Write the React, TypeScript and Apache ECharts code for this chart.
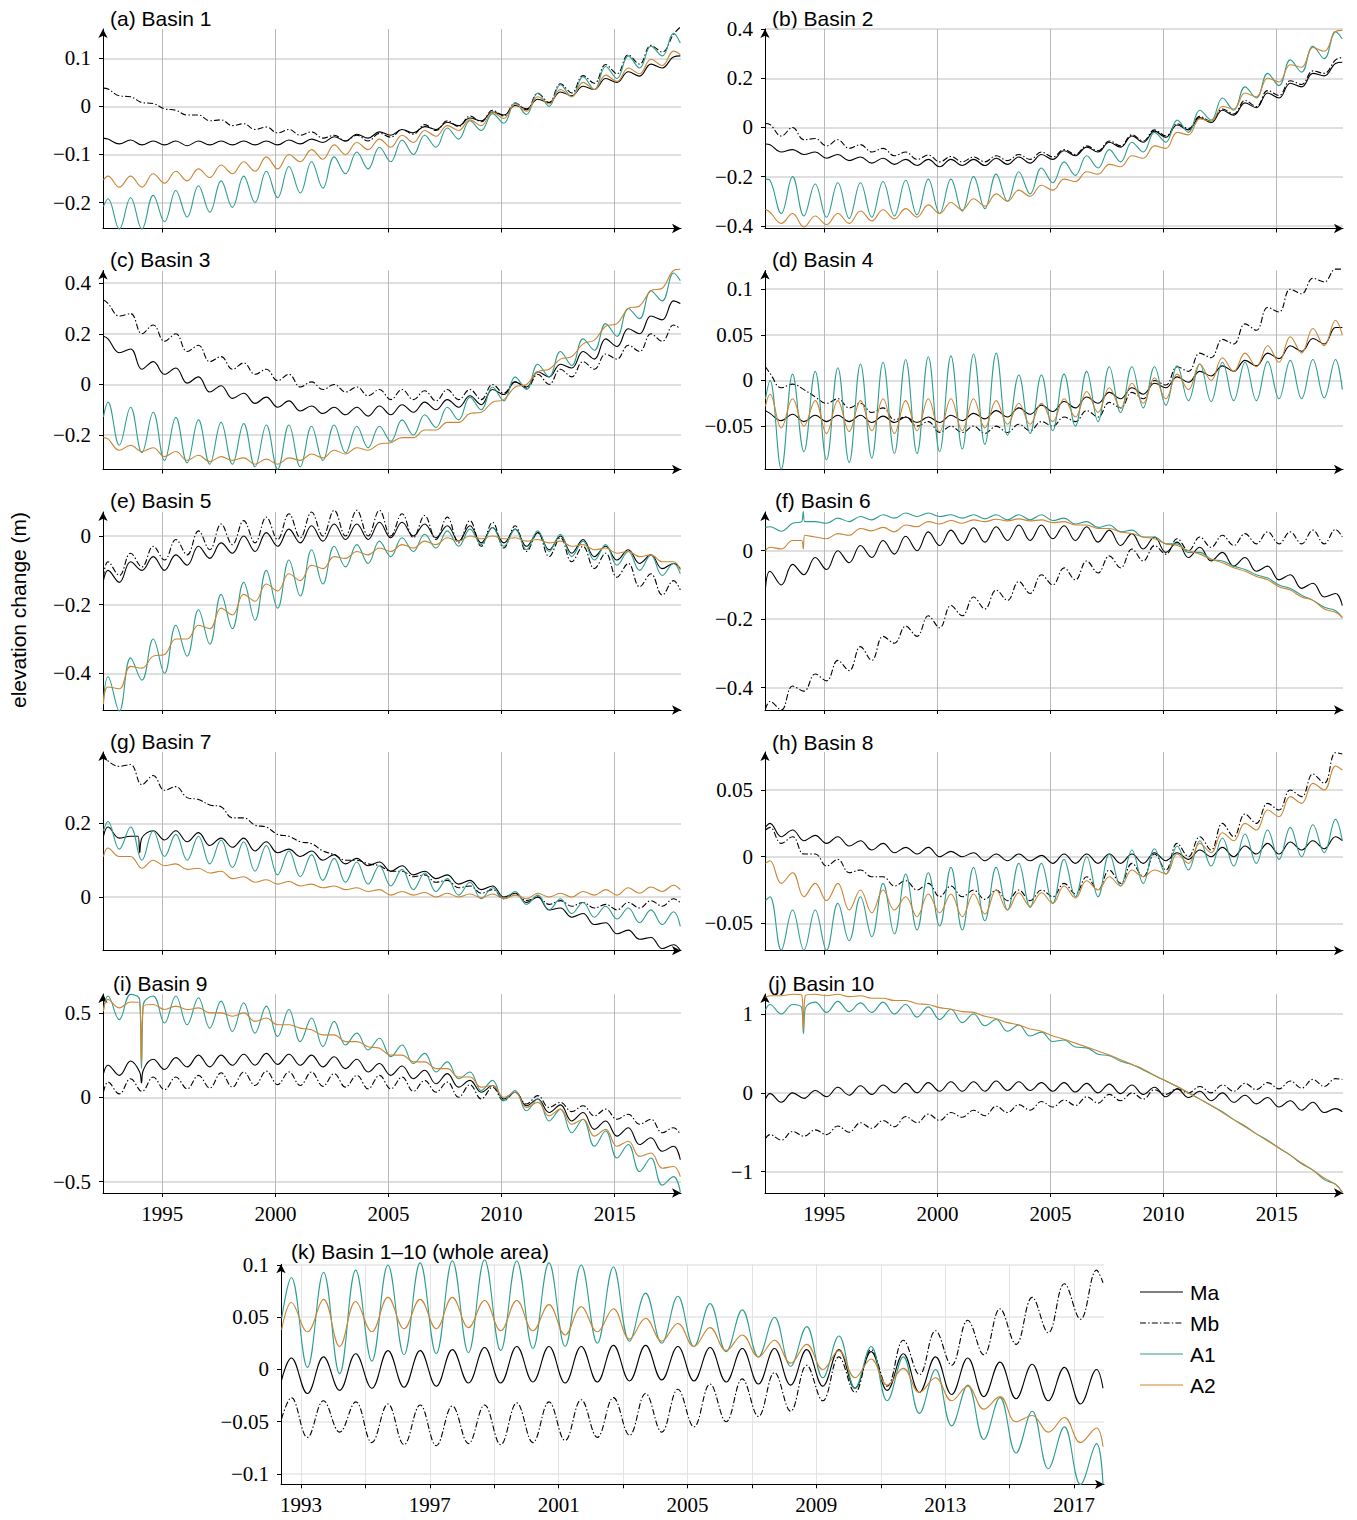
import React, { useEffect, useRef } from "react";
import * as echarts from "echarts";

// ---------- axes ----------
const X_MIN = 1992.38;
const X_MAX = 2017.93;
const START_T = 1992.4;
const END_T = 2017.9;

const TITLES = [
  "(a) Basin 1", "(b) Basin 2", "(c) Basin 3", "(d) Basin 4", "(e) Basin 5",
  "(f) Basin 6", "(g) Basin 7", "(h) Basin 8", "(i) Basin 9", "(j) Basin 10",
  "(k) Basin 1\u201310 (whole area)",
];
const SERIES_NAMES = ["Ma", "Mb", "A1", "A2"];

const Y_RANGES = [
  [-0.254, 0.161], [-0.411, 0.4005], [-0.336, 0.45], [-0.0975, 0.1205],
  [-0.507, 0.07], [-0.465, 0.113], [-0.146, 0.394], [-0.0705, 0.0785],
  [-0.567, 0.612], [-1.27, 1.253], [-0.1099, 0.1006],
];
const Y_TICKS = [
  [-0.2, -0.1, 0, 0.1], [-0.4, -0.2, 0, 0.2, 0.4], [-0.2, 0, 0.2, 0.4],
  [-0.05, 0, 0.05, 0.1], [-0.4, -0.2, 0], [-0.4, -0.2, 0], [0, 0.2],
  [-0.05, 0, 0.05], [-0.5, 0, 0.5], [-1, 0, 1], [-0.1, -0.05, 0, 0.05, 0.1],
];
const X_TICKS = [1995, 2000, 2005, 2010, 2015];
const K_X_TICKS = [1993, 1995, 1997, 1999, 2001, 2003, 2005, 2007, 2009, 2011, 2013, 2015, 2017];
const K_X_LABELS = [1993, 1997, 2001, 2005, 2009, 2013, 2017];
// time of first seasonal peak sample in each panel (samples every half year)
const PHASES = [1992.6, 1992.6, 1992.6, 1992.6, 1992.6, 1992.6, 1992.6, 1992.6, 1992.6, 1992.6, 1992.7];

// ---------- data (m); [start, peak, trough, peak, trough ..., last peak, end] ----------
const a_Ma = [-0.066,
  -0.068, -0.078, -0.07, -0.08, -0.072, -0.08, -0.072, -0.082, -0.072, -0.08,
  -0.072, -0.08, -0.072, -0.08, -0.072, -0.08, -0.07, -0.078, -0.068, -0.075,
  -0.063, -0.072, -0.058, -0.066, -0.053, -0.06, -0.048, -0.055, -0.042, -0.048,
  -0.033, -0.04, -0.024, -0.03, -0.012, -0.018, 0.002, -0.005, 0.015, 0.008,
  0.03, 0.022, 0.042, 0.035, 0.058, 0.05, 0.072, 0.063, 0.088, 0.08,
  0.103, 0.105];
const a_Mb = [0.038,
  0.036, 0.022, 0.02, 0.008, 0.006, -0.005, -0.008, -0.018, -0.018, -0.03,
  -0.028, -0.04, -0.036, -0.048, -0.043, -0.055, -0.048, -0.06, -0.053, -0.066,
  -0.06, -0.072, -0.06, -0.072, -0.056, -0.064, -0.048, -0.058, -0.038, -0.05,
  -0.03, -0.042, -0.02, -0.032, -0.008, -0.02, 0.007, -0.007, 0.027, 0.008,
  0.047, 0.028, 0.064, 0.048, 0.087, 0.068, 0.107, 0.088, 0.127, 0.113,
  0.15, 0.165];
const a_A1 = [-0.208,
  -0.192, -0.255, -0.19, -0.255, -0.185, -0.24, -0.175, -0.23, -0.165, -0.22,
  -0.155, -0.21, -0.145, -0.2, -0.135, -0.19, -0.125, -0.18, -0.115, -0.17,
  -0.105, -0.14, -0.095, -0.13, -0.085, -0.115, -0.07, -0.1, -0.06, -0.085,
  -0.045, -0.068, -0.03, -0.05, -0.015, -0.035, 0.008, -0.017, 0.028, 0.0,
  0.045, 0.02, 0.062, 0.035, 0.083, 0.058, 0.105, 0.08, 0.125, 0.105,
  0.152, 0.132];
const a_A2 = [-0.153,
  -0.145, -0.168, -0.145, -0.168, -0.14, -0.16, -0.135, -0.155, -0.13, -0.148,
  -0.122, -0.14, -0.115, -0.135, -0.105, -0.13, -0.1, -0.115, -0.09, -0.11,
  -0.08, -0.1, -0.075, -0.09, -0.068, -0.085, -0.06, -0.075, -0.05, -0.062,
  -0.04, -0.05, -0.028, -0.04, -0.012, -0.025, 0.005, -0.01, 0.02, 0.005,
  0.035, 0.02, 0.05, 0.035, 0.065, 0.052, 0.08, 0.068, 0.098, 0.085,
  0.115, 0.108];

const b_Ma = [-0.067,
  -0.07, -0.1, -0.09, -0.11, -0.1, -0.125, -0.11, -0.135, -0.12, -0.145,
  -0.125, -0.15, -0.13, -0.155, -0.13, -0.16, -0.13, -0.155, -0.13, -0.155,
  -0.125, -0.15, -0.12, -0.145, -0.11, -0.13, -0.095, -0.115, -0.08, -0.1,
  -0.06, -0.08, -0.035, -0.06, -0.015, -0.04, 0.01, -0.01, 0.04, 0.02,
  0.07, 0.05, 0.1, 0.08, 0.14, 0.12, 0.18, 0.165, 0.22, 0.21,
  0.26, 0.265];
const b_Mb = [0.016,
  0.012, -0.035, 0.0, -0.05, -0.045, -0.075, -0.05, -0.085, -0.07, -0.1,
  -0.085, -0.115, -0.1, -0.13, -0.112, -0.14, -0.118, -0.14, -0.12, -0.14,
  -0.115, -0.135, -0.11, -0.13, -0.1, -0.12, -0.09, -0.11, -0.075, -0.095,
  -0.055, -0.075, -0.03, -0.055, -0.01, -0.035, 0.015, -0.005, 0.045, 0.025,
  0.075, 0.055, 0.11, 0.085, 0.15, 0.13, 0.19, 0.175, 0.23, 0.22,
  0.275, 0.285];
const b_A1 = [-0.21,
  -0.215, -0.35, -0.2, -0.36, -0.23, -0.365, -0.225, -0.37, -0.225, -0.365,
  -0.22, -0.36, -0.215, -0.355, -0.21, -0.35, -0.21, -0.34, -0.2, -0.33,
  -0.19, -0.3, -0.18, -0.27, -0.165, -0.225, -0.14, -0.195, -0.115, -0.165,
  -0.09, -0.14, -0.06, -0.1, -0.02, -0.06, 0.03, -0.02, 0.07, 0.03,
  0.12, 0.07, 0.165, 0.12, 0.22, 0.17, 0.275, 0.225, 0.33, 0.28,
  0.39, 0.36];
const b_A2 = [-0.333,
  -0.345, -0.39, -0.35, -0.405, -0.36, -0.395, -0.35, -0.39, -0.34, -0.38,
  -0.335, -0.372, -0.33, -0.365, -0.315, -0.35, -0.305, -0.335, -0.29, -0.32,
  -0.27, -0.3, -0.255, -0.28, -0.235, -0.255, -0.21, -0.22, -0.18, -0.19,
  -0.15, -0.16, -0.115, -0.125, -0.075, -0.085, -0.02, -0.03, 0.035, 0.025,
  0.085, 0.075, 0.14, 0.125, 0.2, 0.185, 0.255, 0.245, 0.325, 0.31,
  0.39, 0.395];

const c_Ma = [0.19,
  0.18, 0.125, 0.14, 0.06, 0.09, 0.04, 0.065, 0.005, 0.03, -0.03,
  -0.005, -0.055, -0.035, -0.075, -0.05, -0.09, -0.065, -0.105, -0.085, -0.115,
  -0.09, -0.12, -0.09, -0.125, -0.085, -0.12, -0.08, -0.11, -0.07, -0.1,
  -0.06, -0.09, -0.045, -0.08, -0.02, -0.04, 0.01, -0.01, 0.05, 0.03,
  0.08, 0.065, 0.13, 0.1, 0.18, 0.15, 0.22, 0.2, 0.27, 0.255,
  0.33, 0.32];
const c_Mb = [0.334,
  0.32, 0.27, 0.28, 0.2, 0.235, 0.17, 0.2, 0.13, 0.155, 0.09,
  0.11, 0.06, 0.085, 0.04, 0.06, 0.015, 0.04, -0.01, 0.01, -0.02,
  0.0, -0.03, -0.01, -0.045, -0.02, -0.06, -0.02, -0.06, -0.025, -0.065,
  -0.02, -0.06, -0.02, -0.06, 0.0, -0.035, 0.01, -0.015, 0.04, 0.0,
  0.06, 0.03, 0.09, 0.06, 0.12, 0.1, 0.155, 0.13, 0.2, 0.17,
  0.235, 0.22];
const c_A1 = [-0.128,
  -0.07, -0.24, -0.09, -0.27, -0.11, -0.3, -0.13, -0.31, -0.14, -0.315,
  -0.15, -0.315, -0.155, -0.325, -0.16, -0.335, -0.16, -0.325, -0.165, -0.3,
  -0.16, -0.27, -0.165, -0.25, -0.165, -0.225, -0.14, -0.2, -0.12, -0.17,
  -0.09, -0.14, -0.05, -0.1, -0.01, -0.065, 0.03, -0.02, 0.08, 0.03,
  0.13, 0.075, 0.18, 0.135, 0.24, 0.19, 0.3, 0.26, 0.37, 0.33,
  0.44, 0.41];
const c_A2 = [-0.21,
  -0.215, -0.26, -0.24, -0.265, -0.25, -0.285, -0.265, -0.3, -0.28, -0.305,
  -0.285, -0.3, -0.29, -0.315, -0.295, -0.315, -0.29, -0.3, -0.275, -0.29,
  -0.26, -0.275, -0.25, -0.26, -0.235, -0.23, -0.21, -0.21, -0.18, -0.18,
  -0.15, -0.15, -0.115, -0.11, -0.07, -0.06, -0.01, 0.0, 0.05, 0.06,
  0.1, 0.11, 0.16, 0.175, 0.23, 0.24, 0.3, 0.31, 0.37, 0.38,
  0.45, 0.455];

const d_Ma = [-0.033,
  -0.036, -0.044, -0.037, -0.045, -0.038, -0.045, -0.038, -0.045, -0.038, -0.046,
  -0.039, -0.046, -0.04, -0.046, -0.04, -0.046, -0.038, -0.044, -0.036, -0.042,
  -0.033, -0.04, -0.03, -0.037, -0.027, -0.034, -0.023, -0.03, -0.018, -0.025,
  -0.013, -0.02, -0.008, -0.015, -0.003, -0.008, 0.004, -0.002, 0.01, 0.005,
  0.016, 0.01, 0.022, 0.016, 0.03, 0.024, 0.038, 0.032, 0.046, 0.04,
  0.058, 0.058];
const d_Mb = [0.015,
  0.008, -0.008, -0.004, -0.01, -0.018, -0.025, -0.02, -0.03, -0.025, -0.035,
  -0.03, -0.043, -0.04, -0.05, -0.045, -0.057, -0.05, -0.057, -0.05, -0.058,
  -0.05, -0.057, -0.048, -0.055, -0.045, -0.05, -0.04, -0.045, -0.033, -0.04,
  -0.024, -0.03, -0.013, -0.02, 0.0, -0.005, 0.015, 0.01, 0.03, 0.025,
  0.045, 0.04, 0.062, 0.055, 0.08, 0.075, 0.1, 0.095, 0.112, 0.108,
  0.122, 0.122];
const d_A1 = [-0.02,
  0.0, -0.097, 0.007, -0.078, 0.01, -0.087, 0.014, -0.09, 0.018, -0.085,
  0.02, -0.08, 0.023, -0.08, 0.026, -0.078, 0.027, -0.075, 0.029, -0.07,
  0.03, -0.06, 0.006, -0.058, 0.006, -0.055, 0.007, -0.05, 0.01, -0.045,
  0.015, -0.035, 0.015, -0.03, 0.015, -0.027, 0.016, -0.022, 0.018, -0.023,
  0.02, -0.022, 0.02, -0.022, 0.021, -0.02, 0.022, -0.02, 0.023, -0.019,
  0.023, -0.01];
const d_A2 = [-0.028,
  -0.015, -0.052, -0.02, -0.05, -0.022, -0.058, -0.022, -0.056, -0.022, -0.055,
  -0.02, -0.058, -0.022, -0.055, -0.02, -0.056, -0.02, -0.055, -0.02, -0.052,
  -0.022, -0.048, -0.025, -0.048, -0.025, -0.045, -0.02, -0.04, -0.012, -0.035,
  -0.008, -0.03, -0.003, -0.025, 0.003, -0.02, 0.007, -0.01, 0.018, 0.0,
  0.025, 0.01, 0.03, 0.015, 0.038, 0.02, 0.048, 0.03, 0.057, 0.038,
  0.066, 0.05];

const e_Ma = [-0.13,
  -0.1, -0.135, -0.075, -0.1, -0.06, -0.1, -0.055, -0.085, -0.03, -0.065,
  -0.02, -0.05, 0.0, -0.045, 0.01, -0.03, 0.02, -0.02, 0.03, -0.015,
  0.035, -0.01, 0.035, -0.01, 0.04, -0.005, 0.04, 0.0, 0.035, -0.005,
  0.03, -0.015, 0.03, -0.02, 0.025, -0.02, 0.02, -0.03, 0.01, -0.04,
  0.0, -0.05, -0.01, -0.06, -0.03, -0.07, -0.04, -0.08, -0.055, -0.095,
  -0.08, -0.095];
const e_Mb = [-0.12,
  -0.075, -0.115, -0.05, -0.09, -0.03, -0.07, -0.01, -0.055, 0.015, -0.04,
  0.035, -0.025, 0.045, -0.02, 0.055, -0.01, 0.065, -0.005, 0.07, 0.0,
  0.075, 0.0, 0.075, 0.0, 0.075, 0.0, 0.065, -0.005, 0.06, -0.01,
  0.055, -0.02, 0.045, -0.03, 0.04, -0.035, 0.03, -0.045, 0.01, -0.06,
  -0.005, -0.075, -0.03, -0.095, -0.05, -0.12, -0.08, -0.148, -0.11, -0.172,
  -0.13, -0.157];
const e_A1 = [-0.48,
  -0.41, -0.51, -0.355, -0.42, -0.3, -0.4, -0.26, -0.35, -0.215, -0.315,
  -0.17, -0.27, -0.135, -0.245, -0.1, -0.21, -0.07, -0.175, -0.04, -0.14,
  -0.03, -0.09, -0.025, -0.08, -0.015, -0.06, -0.005, -0.045, 0.005, -0.035,
  0.015, -0.03, 0.02, -0.025, 0.025, -0.03, 0.02, -0.04, 0.015, -0.045,
  0.005, -0.06, -0.015, -0.07, -0.025, -0.085, -0.045, -0.1, -0.055, -0.115,
  -0.08, -0.11];
const e_A2 = [-0.49,
  -0.44, -0.445, -0.38, -0.385, -0.35, -0.345, -0.3, -0.3, -0.26, -0.27,
  -0.21, -0.23, -0.17, -0.19, -0.14, -0.16, -0.11, -0.13, -0.085, -0.095,
  -0.06, -0.065, -0.045, -0.055, -0.035, -0.045, -0.025, -0.035, -0.015, -0.025,
  -0.005, -0.015, 0.0, -0.008, 0.0, -0.008, -0.005, -0.015, -0.01, -0.02,
  -0.015, -0.03, -0.025, -0.04, -0.035, -0.05, -0.045, -0.06, -0.055, -0.075,
  -0.075, -0.1];

const f_Ma = [-0.11,
  -0.06, -0.1, -0.04, -0.07, -0.02, -0.055, 0.0, -0.035, 0.015, -0.02,
  0.03, -0.01, 0.042, 0.0, 0.055, 0.015, 0.06, 0.02, 0.067, 0.025,
  0.07, 0.03, 0.075, 0.03, 0.075, 0.035, 0.073, 0.03, 0.07, 0.025,
  0.06, 0.015, 0.05, 0.005, 0.04, -0.005, 0.025, -0.02, 0.01, -0.03,
  -0.005, -0.045, -0.02, -0.06, -0.045, -0.085, -0.07, -0.11, -0.095, -0.135,
  -0.125, -0.16];
const f_Mb = [-0.463,
  -0.44, -0.465, -0.395, -0.41, -0.36, -0.38, -0.32, -0.35, -0.28, -0.32,
  -0.25, -0.27, -0.22, -0.25, -0.19, -0.225, -0.16, -0.19, -0.135, -0.17,
  -0.115, -0.145, -0.09, -0.125, -0.07, -0.1, -0.05, -0.085, -0.03, -0.065,
  -0.015, -0.05, 0.005, -0.03, 0.015, -0.01, 0.035, 0.0, 0.04, 0.01,
  0.045, 0.015, 0.05, 0.02, 0.055, 0.02, 0.055, 0.02, 0.06, 0.02,
  0.062, 0.04];
const f_A1 = [0.068,
  0.07, 0.057, 0.08, 0.085, 0.085, 0.08, 0.095, 0.085, 0.1, 0.09,
  0.105, 0.095, 0.11, 0.1, 0.11, 0.1, 0.105, 0.095, 0.105, 0.093,
  0.105, 0.09, 0.105, 0.09, 0.105, 0.088, 0.095, 0.078, 0.085, 0.068,
  0.075, 0.055, 0.06, 0.04, 0.04, 0.02, 0.02, -0.005, -0.005, -0.025,
  -0.03, -0.045, -0.055, -0.07, -0.08, -0.1, -0.11, -0.13, -0.145, -0.165,
  -0.175, -0.195];
const f_A2 = [0.0,
  0.01, 0.005, 0.03, 0.03, 0.04, 0.035, 0.05, 0.045, 0.065, 0.058,
  0.068, 0.055, 0.075, 0.07, 0.085, 0.078, 0.088, 0.08, 0.09, 0.085,
  0.092, 0.087, 0.093, 0.087, 0.09, 0.082, 0.085, 0.075, 0.075, 0.065,
  0.065, 0.055, 0.05, 0.04, 0.035, 0.02, 0.015, 0.0, -0.01, -0.025,
  -0.035, -0.05, -0.06, -0.075, -0.085, -0.105, -0.115, -0.135, -0.145, -0.17,
  -0.18, -0.195];

const g_Ma = [0.165,
  0.19, 0.16, 0.165, 0.16, 0.18, 0.155, 0.18, 0.15, 0.175, 0.14,
  0.16, 0.135, 0.16, 0.125, 0.15, 0.12, 0.13, 0.11, 0.125, 0.1,
  0.115, 0.09, 0.105, 0.085, 0.095, 0.07, 0.085, 0.06, 0.07, 0.05,
  0.06, 0.035, 0.045, 0.02, 0.03, 0.0, 0.01, -0.015, 0.0, -0.035,
  -0.03, -0.055, -0.045, -0.075, -0.07, -0.1, -0.09, -0.115, -0.11, -0.14,
  -0.13, -0.145];
const g_Mb = [0.39,
  0.37, 0.355, 0.36, 0.305, 0.33, 0.29, 0.3, 0.27, 0.265, 0.25,
  0.245, 0.215, 0.215, 0.195, 0.19, 0.17, 0.165, 0.15, 0.145, 0.125,
  0.115, 0.1, 0.1, 0.09, 0.085, 0.07, 0.07, 0.055, 0.06, 0.04,
  0.045, 0.025, 0.03, 0.01, 0.02, -0.005, 0.01, -0.01, 0.0, -0.02,
  -0.01, -0.025, -0.015, -0.03, -0.02, -0.035, -0.015, -0.03, -0.01, -0.025,
  -0.005, -0.015];
const g_A1 = [0.18,
  0.205, 0.13, 0.19, 0.1, 0.18, 0.11, 0.17, 0.1, 0.165, 0.09,
  0.155, 0.08, 0.15, 0.07, 0.14, 0.06, 0.125, 0.055, 0.115, 0.045,
  0.105, 0.04, 0.095, 0.035, 0.085, 0.03, 0.075, 0.02, 0.065, 0.015,
  0.05, 0.005, 0.04, -0.005, 0.025, -0.005, 0.015, -0.02, 0.005, -0.035,
  -0.005, -0.045, -0.015, -0.055, -0.025, -0.06, -0.03, -0.07, -0.035, -0.075,
  -0.04, -0.08];
const g_A2 = [0.11,
  0.133, 0.11, 0.11, 0.078, 0.1, 0.085, 0.09, 0.075, 0.078, 0.065,
  0.07, 0.05, 0.055, 0.04, 0.047, 0.035, 0.042, 0.03, 0.035, 0.025,
  0.03, 0.02, 0.025, 0.015, 0.02, 0.005, 0.015, 0.005, 0.012, 0.0,
  0.01, 0.0, 0.008, -0.002, 0.008, -0.005, 0.005, -0.005, 0.01, 0.0,
  0.01, 0.0, 0.015, 0.005, 0.02, 0.005, 0.025, 0.01, 0.027, 0.015,
  0.032, 0.02];

const h_Ma = [0.022,
  0.025, 0.015, 0.02, 0.012, 0.016, 0.01, 0.015, 0.008, 0.012, 0.005,
  0.01, 0.003, 0.007, 0.002, 0.007, 0.0, 0.004, 0.0, 0.003, -0.003,
  0.002, -0.003, 0.002, -0.003, 0.001, -0.005, 0.002, -0.005, 0.002, -0.005,
  0.002, -0.005, 0.002, -0.005, 0.003, -0.003, 0.003, -0.002, 0.005, 0.0,
  0.007, 0.0, 0.008, 0.002, 0.01, 0.002, 0.011, 0.005, 0.012, 0.006,
  0.015, 0.012];
const h_Mb = [0.02,
  0.022, 0.01, 0.015, 0.002, 0.002, -0.007, -0.002, -0.012, -0.01, -0.015,
  -0.015, -0.022, -0.018, -0.025, -0.02, -0.03, -0.022, -0.03, -0.025, -0.032,
  -0.025, -0.033, -0.025, -0.033, -0.025, -0.03, -0.02, -0.028, -0.015, -0.025,
  -0.01, -0.02, -0.005, -0.015, 0.002, -0.01, 0.01, 0.0, 0.015, 0.005,
  0.025, 0.015, 0.032, 0.025, 0.04, 0.035, 0.05, 0.045, 0.062, 0.055,
  0.078, 0.077];
const h_A1 = [-0.033,
  -0.03, -0.07, -0.04, -0.07, -0.04, -0.07, -0.035, -0.063, -0.03, -0.06,
  -0.02, -0.058, -0.013, -0.055, -0.012, -0.052, -0.008, -0.055, -0.008, -0.048,
  -0.008, -0.04, -0.005, -0.038, -0.005, -0.035, -0.002, -0.03, 0.0, -0.03,
  0.002, -0.022, 0.005, -0.02, 0.006, -0.013, 0.008, -0.01, 0.012, -0.007,
  0.014, -0.007, 0.017, -0.005, 0.02, -0.002, 0.022, 0.0, 0.024, 0.003,
  0.028, 0.012];
const h_A2 = [-0.005,
  -0.003, -0.02, -0.012, -0.03, -0.02, -0.033, -0.02, -0.04, -0.025, -0.042,
  -0.025, -0.04, -0.03, -0.045, -0.028, -0.042, -0.028, -0.045, -0.028, -0.043,
  -0.025, -0.04, -0.027, -0.037, -0.027, -0.035, -0.022, -0.031, -0.018, -0.025,
  -0.015, -0.022, -0.01, -0.015, -0.01, -0.013, 0.002, -0.005, 0.01, 0.003,
  0.018, 0.012, 0.025, 0.02, 0.035, 0.03, 0.045, 0.04, 0.055, 0.05,
  0.068, 0.065];

const i_Ma = [0.14,
  0.19, 0.13, 0.215, 0.16, 0.225, 0.165, 0.235, 0.18, 0.25, 0.18,
  0.25, 0.19, 0.255, 0.19, 0.26, 0.195, 0.255, 0.19, 0.25, 0.18,
  0.24, 0.17, 0.225, 0.15, 0.2, 0.13, 0.185, 0.11, 0.16, 0.08,
  0.14, 0.06, 0.1, 0.03, 0.07, -0.01, 0.03, -0.05, -0.01, -0.09,
  -0.045, -0.14, -0.09, -0.19, -0.14, -0.23, -0.18, -0.28, -0.24, -0.32,
  -0.29, -0.37];
const i_Mb = [0.03,
  0.09, 0.02, 0.11, 0.035, 0.12, 0.045, 0.12, 0.05, 0.13, 0.055,
  0.145, 0.06, 0.15, 0.07, 0.155, 0.075, 0.15, 0.07, 0.15, 0.065,
  0.14, 0.06, 0.13, 0.05, 0.13, 0.05, 0.12, 0.035, 0.1, 0.03,
  0.09, 0.0, 0.075, -0.01, 0.06, -0.02, 0.03, -0.04, 0.01, -0.06,
  -0.03, -0.085, -0.05, -0.11, -0.07, -0.13, -0.1, -0.16, -0.13, -0.21,
  -0.18, -0.22];
const i_A1 = [0.52,
  0.6, 0.46, 0.61, 0.45, 0.6, 0.44, 0.6, 0.43, 0.59, 0.41,
  0.57, 0.39, 0.56, 0.38, 0.54, 0.36, 0.52, 0.33, 0.47, 0.3,
  0.45, 0.31, 0.38, 0.28, 0.35, 0.24, 0.31, 0.2, 0.26, 0.15,
  0.21, 0.11, 0.15, 0.04, 0.1, -0.02, 0.04, -0.08, -0.01, -0.14,
  -0.07, -0.21, -0.13, -0.29, -0.2, -0.36, -0.28, -0.44, -0.36, -0.52,
  -0.47, -0.56];
const i_A2 = [0.51,
  0.58, 0.53, 0.565, 0.54, 0.55, 0.52, 0.54, 0.52, 0.53, 0.5,
  0.5, 0.48, 0.5, 0.45, 0.47, 0.43, 0.43, 0.41, 0.4, 0.37,
  0.37, 0.33, 0.33, 0.3, 0.29, 0.25, 0.25, 0.21, 0.21, 0.17,
  0.17, 0.12, 0.12, 0.06, 0.07, 0.0, 0.03, -0.06, -0.03, -0.11,
  -0.07, -0.16, -0.13, -0.23, -0.19, -0.29, -0.26, -0.35, -0.33, -0.42,
  -0.41, -0.47];

const j_Ma = [-0.08,
  -0.01, -0.12, 0.0, -0.07, 0.03, -0.05, 0.07, -0.03, 0.09, -0.02,
  0.1, 0.0, 0.12, 0.0, 0.13, 0.02, 0.14, 0.02, 0.14, 0.02,
  0.15, 0.03, 0.14, 0.03, 0.13, 0.02, 0.13, 0.01, 0.12, 0.0,
  0.11, -0.01, 0.1, -0.02, 0.07, -0.05, 0.05, -0.06, 0.02, -0.1,
  0.0, -0.12, -0.03, -0.14, -0.06, -0.18, -0.1, -0.22, -0.12, -0.25,
  -0.2, -0.24];
const j_Mb = [-0.58,
  -0.53, -0.6, -0.49, -0.55, -0.47, -0.53, -0.42, -0.5, -0.38, -0.45,
  -0.35, -0.43, -0.3, -0.38, -0.27, -0.35, -0.25, -0.31, -0.22, -0.29,
  -0.17, -0.25, -0.15, -0.22, -0.11, -0.18, -0.09, -0.16, -0.05, -0.13,
  -0.02, -0.1, 0.0, -0.08, 0.04, -0.02, 0.05, 0.0, 0.08, 0.0,
  0.1, 0.02, 0.12, 0.04, 0.13, 0.05, 0.15, 0.06, 0.17, 0.08,
  0.18, 0.17];
const j_A1 = [1.05,
  1.12, 1.0, 1.12, 1.05, 1.15, 1.02, 1.16, 1.03, 1.14, 1.02,
  1.15, 1.0, 1.12, 0.96, 1.09, 0.93, 1.06, 0.89, 1.0, 0.85,
  0.93, 0.78, 0.86, 0.72, 0.77, 0.65, 0.67, 0.58, 0.57, 0.49,
  0.47, 0.4, 0.36, 0.29, 0.22, 0.15, 0.08, 0.0, -0.08, -0.16,
  -0.24, -0.34, -0.42, -0.52, -0.6, -0.7, -0.79, -0.9, -0.98, -1.1,
  -1.16, -1.26];
const j_A2 = [1.21,
  1.23, 1.23, 1.25, 1.24, 1.25, 1.23, 1.25, 1.22, 1.23, 1.2,
  1.2, 1.17, 1.17, 1.13, 1.12, 1.08, 1.06, 1.03, 1.02, 0.97,
  0.94, 0.89, 0.86, 0.81, 0.78, 0.72, 0.68, 0.63, 0.58, 0.53,
  0.48, 0.42, 0.36, 0.3, 0.22, 0.15, 0.08, 0.0, -0.08, -0.16,
  -0.25, -0.34, -0.43, -0.52, -0.61, -0.7, -0.79, -0.89, -0.98, -1.08,
  -1.16, -1.26];

const k_Ma = [-0.01,
  0.011, -0.023, 0.012, -0.02, 0.015, -0.018, 0.018, -0.017, 0.018, -0.016,
  0.019, -0.013, 0.021, -0.013, 0.022, -0.012, 0.022, -0.013, 0.022, -0.012,
  0.023, -0.011, 0.023, -0.01, 0.022, -0.011, 0.021, -0.012, 0.02, -0.014,
  0.02, -0.015, 0.019, -0.016, 0.019, -0.018, 0.017, -0.02, 0.015, -0.022,
  0.012, -0.024, 0.011, -0.026, 0.007, -0.028, 0.005, -0.03, 0.002, -0.033,
  0.0, -0.018];
const k_Mb = [-0.047,
  -0.027, -0.065, -0.03, -0.06, -0.031, -0.07, -0.033, -0.072, -0.034, -0.073,
  -0.035, -0.071, -0.034, -0.072, -0.032, -0.07, -0.031, -0.068, -0.029, -0.065,
  -0.027, -0.063, -0.023, -0.06, -0.019, -0.055, -0.014, -0.05, -0.009, -0.045,
  -0.003, -0.04, 0.004, -0.03, 0.012, -0.022, 0.019, -0.016, 0.028, -0.005,
  0.037, 0.004, 0.047, 0.014, 0.058, 0.024, 0.069, 0.035, 0.082, 0.048,
  0.095, 0.083];
const k_A1 = [0.049,
  0.088, 0.002, 0.093, -0.004, 0.095, 0.008, 0.1, 0.014, 0.102, 0.015,
  0.104, 0.016, 0.105, 0.018, 0.104, 0.02, 0.102, 0.022, 0.1, 0.025,
  0.098, 0.027, 0.073, 0.025, 0.07, 0.022, 0.063, 0.017, 0.057, 0.012,
  0.05, 0.003, 0.041, -0.008, 0.032, -0.018, 0.022, -0.03, 0.012, -0.042,
  0.0, -0.054, -0.015, -0.067, -0.027, -0.08, -0.04, -0.095, -0.055, -0.11,
  -0.071, -0.11];
const k_A2 = [0.038,
  0.064, 0.036, 0.067, 0.022, 0.065, 0.036, 0.069, 0.039, 0.067, 0.039,
  0.069, 0.04, 0.066, 0.037, 0.066, 0.037, 0.062, 0.033, 0.06, 0.036,
  0.058, 0.029, 0.049, 0.027, 0.044, 0.022, 0.04, 0.018, 0.033, 0.012,
  0.028, 0.006, 0.024, 0.0, 0.018, -0.008, 0.01, -0.015, 0.001, -0.022,
  -0.008, -0.03, -0.016, -0.038, -0.026, -0.05, -0.044, -0.06, -0.046, -0.07,
  -0.056, -0.074];

// short glitches around early 1994 [time, value]
const f_A1_spike = [[1994.0, 0.085], [1994.07, 0.114], [1994.14, 0.085]];
const f_A2_spike = [[1994.0, 0.03], [1994.07, 0.005], [1994.14, 0.045]];
const g_Ma_spike = [[1993.93, 0.165], [1994.0, 0.12], [1994.1, 0.16]];
const i_Ma_spike = [[1994.0, 0.15], [1994.08, 0.085], [1994.16, 0.16]];
const i_A1_spike = [[1994.0, 0.58], [1994.08, 0.17], [1994.16, 0.55]];
const i_A2_spike = [[1994.0, 0.56], [1994.08, 0.2], [1994.16, 0.54]];
const j_A1_spike = [[1994.0, 1.08], [1994.08, 0.75], [1994.16, 1.07]];
const j_A2_spike = [[1994.0, 1.24], [1994.08, 0.8], [1994.16, 1.23]];

const PANEL_DATA = [
  [a_Ma, a_Mb, a_A1, a_A2],
  [b_Ma, b_Mb, b_A1, b_A2],
  [c_Ma, c_Mb, c_A1, c_A2],
  [d_Ma, d_Mb, d_A1, d_A2],
  [e_Ma, e_Mb, e_A1, e_A2],
  [f_Ma, f_Mb, f_A1, f_A2],
  [g_Ma, g_Mb, g_A1, g_A2],
  [h_Ma, h_Mb, h_A1, h_A2],
  [i_Ma, i_Mb, i_A1, i_A2],
  [j_Ma, j_Mb, j_A1, j_A2],
  [k_Ma, k_Mb, k_A1, k_A2],
];
const PANEL_SPIKES: (number[][] | null)[][] = [
  [null, null, null, null], [null, null, null, null], [null, null, null, null],
  [null, null, null, null], [null, null, null, null],
  [null, null, f_A1_spike, f_A2_spike],
  [g_Ma_spike, null, null, null],
  [null, null, null, null],
  [i_Ma_spike, null, i_A1_spike, i_A2_spike],
  [null, null, j_A1_spike, j_A2_spike],
  [null, null, null, null],
];

// ---------- layout / style ----------
const GRID_BOXES = [
  { left: 103, top: 29, width: 578, height: 199.5 },
  { left: 765, top: 29, width: 578, height: 199.5 },
  { left: 103, top: 270.5, width: 578, height: 199 },
  { left: 765, top: 270.5, width: 578, height: 199 },
  { left: 103, top: 512, width: 578, height: 198 },
  { left: 765, top: 512, width: 578, height: 198 },
  { left: 103, top: 752, width: 578, height: 198.7 },
  { left: 765, top: 752, width: 578, height: 198.7 },
  { left: 103, top: 994, width: 578, height: 199 },
  { left: 765, top: 994, width: 578, height: 199 },
  { left: 281, top: 1264.3, width: 823, height: 220 },
];
const TITLE_POS = [
  [110, 18], [772, 18], [110, 259], [772, 259], [110, 500], [775, 500],
  [110, 741], [772, 742], [113, 983], [768, 983], [291, 1251],
];
const COLORS = ["#000000", "#000000", "#2e9d90", "#cb8634"];
const DASHES: any[] = ["solid", [6, 2.2, 1.4, 2.2], "solid", "solid"];
const SERIF = '"Liberation Serif", "DejaVu Serif", serif';
const SANS = '"Liberation Sans", Arial, sans-serif';
const FONT_SIZE = 21;

function fmt(v: number): string {
  const r = Math.round(v * 1000) / 1000;
  const s = String(Math.abs(r));
  return r < 0 ? "\u2212" + s : s;
}

function buildSeriesData(vals: number[], phase: number, spike: number[][] | null) {
  const n = vals.length;
  let pts: number[][] = vals.map((v, i) => {
    let t: number;
    if (i === 0) t = START_T;
    else if (i === n - 1) t = END_T;
    else t = phase + 0.5 * (i - 1);
    return [t, v];
  });
  if (spike) {
    const lo = spike[0][0];
    const hi = spike[spike.length - 1][0];
    pts = pts.filter((p) => p[0] < lo || p[0] > hi).concat(spike.map((p) => [p[0], p[1]]));
    pts.sort((p, q) => p[0] - q[0]);
  }
  return pts;
}

function buildOption() {
  const grid: any[] = [];
  const xAxis: any[] = [];
  const yAxis: any[] = [];
  const series: any[] = [];
  const graphics: any[] = [];

  for (let p = 0; p < 11; p++) {
    const isK = p === 10;
    const showX = p === 8 || p === 9 || isK;
    const gridColorV = isK ? "#e3e3e3" : "#b9b9b9";
    const gridColorH = isK ? "#e6e6e6" : "#d4d4d4";
    grid.push({ ...GRID_BOXES[p], containLabel: false });
    xAxis.push({
      type: "value",
      gridIndex: p,
      min: X_MIN,
      max: X_MAX,
      axisLine: {
        show: true,
        onZero: false,
        lineStyle: { color: "#000", width: 1 },
        symbol: ["none", "arrow"],
        symbolSize: [7, 9],
      },
      axisTick: {
        show: true,
        length: 4,
        customValues: isK ? K_X_TICKS : X_TICKS,
        lineStyle: { color: "#000", width: 1 },
      },
      axisLabel: {
        show: showX,
        customValues: isK ? K_X_LABELS : X_TICKS,
        formatter: (v: number) => String(Math.round(v)),
        fontFamily: SERIF,
        fontSize: FONT_SIZE,
        color: "#000",
        margin: 10,
      },
      splitLine: { show: true, lineStyle: { color: gridColorV, width: 1 } },
    });
    yAxis.push({
      type: "value",
      gridIndex: p,
      min: Y_RANGES[p][0],
      max: Y_RANGES[p][1],
      axisLine: {
        show: true,
        onZero: false,
        lineStyle: { color: "#000", width: 1 },
        symbol: ["none", "arrow"],
        symbolSize: [7, 9],
      },
      axisTick: {
        show: true,
        length: 4,
        customValues: Y_TICKS[p],
        lineStyle: { color: "#000", width: 1 },
      },
      axisLabel: {
        show: true,
        customValues: Y_TICKS[p],
        formatter: (v: number) => fmt(v),
        fontFamily: SERIF,
        fontSize: FONT_SIZE,
        color: "#000",
        margin: 12,
      },
      splitLine: { show: true, lineStyle: { color: gridColorH, width: 1.5 } },
    });
    for (let s = 0; s < 4; s++) {
      series.push({
        type: "line",
        name: SERIES_NAMES[s],
        xAxisIndex: p,
        yAxisIndex: p,
        data: buildSeriesData(PANEL_DATA[p][s], PHASES[p], PANEL_SPIKES[p][s]),
        showSymbol: false,
        symbol: "none",
        smooth: 0.4,
        clip: false,
        silent: true,
        z: 2 + s,
        lineStyle: { color: COLORS[s], width: 1.1, type: DASHES[s] },
      });
    }
    graphics.push({
      type: "text",
      x: TITLE_POS[p][0],
      y: TITLE_POS[p][1],
      style: {
        text: TITLES[p],
        font: `${FONT_SIZE}px ${SANS}`,
        fill: "#000",
        align: "left",
        verticalAlign: "middle",
      },
    });
  }

  // y-axis title
  graphics.push({
    type: "text",
    x: 18,
    y: 610,
    rotation: Math.PI / 2,
    style: {
      text: "elevation change (m)",
      font: `${FONT_SIZE}px ${SANS}`,
      fill: "#000",
      align: "center",
      verticalAlign: "middle",
    },
  });

  // legend
  const legendY = [1292, 1323, 1354, 1385];
  for (let s = 0; s < 4; s++) {
    graphics.push({
      type: "line",
      shape: { x1: 1140, y1: legendY[s], x2: 1183, y2: legendY[s] },
      style: {
        stroke: COLORS[s],
        lineWidth: 1.2,
        lineDash: s === 1 ? [6, 2.2, 1.4, 2.2] : null,
      },
    });
    graphics.push({
      type: "text",
      x: 1190,
      y: legendY[s],
      style: {
        text: SERIES_NAMES[s],
        font: `${FONT_SIZE}px ${SANS}`,
        fill: "#000",
        align: "left",
        verticalAlign: "middle",
      },
    });
  }

  return {
    animation: false,
    backgroundColor: "#ffffff",
    grid,
    xAxis,
    yAxis,
    series,
    graphic: { elements: graphics },
  };
}

export default function App() {
  const ref = useRef<HTMLDivElement>(null);
  useEffect(() => {
    if (!ref.current) return;
    const chart = echarts.init(ref.current, null, { renderer: "svg" });
    chart.setOption(buildOption() as any);
    return () => {
      chart.dispose();
    };
  }, []);
  return (
    <div
      ref={ref}
      style={{ position: "absolute", left: 0, top: 0, width: 1357, height: 1520, background: "#fff" }}
    />
  );
}
